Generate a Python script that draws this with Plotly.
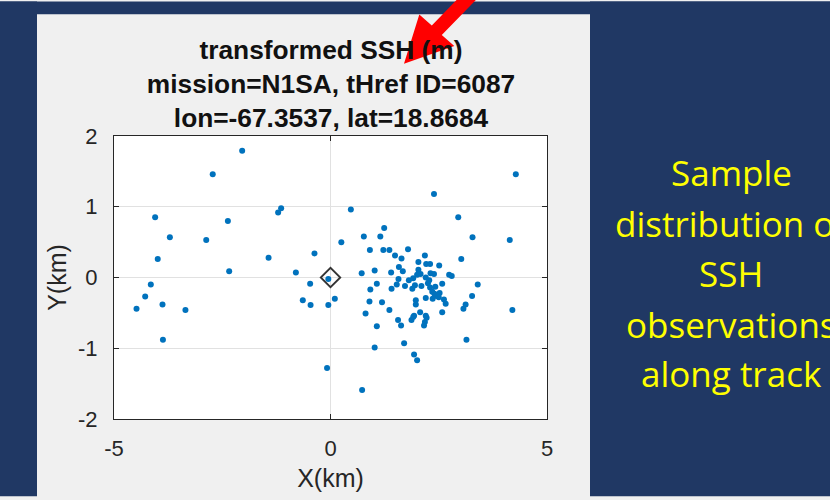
import plotly.graph_objects as go

# ---- data (km offsets of SSH observations relative to reference point) ----
x_km = [
    -2.04, -2.72, -4.05, -1.14, -1.21, -2.37, -3.71, -2.87, -3.99, -1.43,
    -0.37, -2.34, -0.80, -4.15, -0.47, -0.05, -4.28, -3.88, -4.48, -3.35,
    -3.87, -0.64, -0.46, -0.05, 0.10, -0.08, 0.73,
    4.28, 2.39, 0.47, 2.95, 1.24, 0.77, 1.15, 3.28, 4.14, 0.25, 0.91, 1.22,
    1.36, 1.79, 1.49, 1.64, 2.18, 3.02, 2.03, 2.21, 2.30, 2.51, 1.58, 1.67,
    1.02, 0.72, 1.40, 2.03, 2.08, 2.00, 2.31, 2.39, 2.74, 2.80, 1.57, 1.81,
    1.91, 2.20, 1.07, 1.53, 1.72, 1.95, 2.58, 3.40, 0.92, 1.41, 1.89, 2.10,
    2.25, 2.30, 2.35, 2.40, 2.45, 2.50, 2.52, 2.62, 2.20, 3.27, 0.90, 1.19,
    1.97, 1.97, 2.66, 3.12, 3.07, 2.58, 2.07, 2.20, 1.93, 1.36, 0.81, 1.56,
    1.63, 1.87, 1.91, 2.16, 2.18, 2.22, 1.07, 1.70, 1.02, 1.93, 2.00, 3.14,
    4.20, 2.28, 2.42, 2.36,
]
y_km = [
    1.79, 1.46, 0.85, 0.98, 0.92, 0.80, 0.57, 0.53, 0.26, 0.28,
    0.34, 0.09, 0.07, -0.10, -0.09, -0.02, -0.27, -0.38, -0.44, -0.46,
    -0.88, -0.32, -0.39, -0.39, -0.30, -1.28, -1.59,
    1.46, 1.18, 0.96, 0.85, 0.70, 0.58, 0.58, 0.57, 0.53, 0.50, 0.39, 0.39,
    0.39, 0.40, 0.31, 0.27, 0.31, 0.26, 0.22, 0.19, 0.19, 0.17, 0.15, 0.09,
    0.10, 0.06, 0.07, 0.11, 0.05, 0.04, 0.06, 0.05, 0.04, 0.02, -0.02, -0.04,
    -0.01, 0.00, -0.09, -0.10, -0.12, -0.11, -0.09, -0.10, -0.17, -0.16, -0.16, -0.12,
    -0.08, -0.14, -0.20, -0.23, -0.26, -0.28, -0.22, -0.31, -0.29, -0.26, -0.34, -0.35,
    -0.32, -0.38, -0.37, -0.38, -0.44, -0.49, -0.49, -0.54, -0.54, -0.46, -0.51, -0.60,
    -0.68, -0.60, -0.56, -0.68, -0.63, -0.57, -0.69, -0.93, -0.99, -1.09, -1.17, -0.88,
    -0.46, -0.04, -0.13, -0.30,
]
ref_x = [0.0]
ref_y = [0.0]

x_ticks = [-5, 0, 5]
x_ticklabels = ["-5", "0", "5"]
y_ticks = [-2, -1, 0, 1, 2]
y_ticklabels = ["-2", "-1", "0", "1", "2"]

title_lines = ["transformed SSH (m)", "mission=N1SA, tHref ID=6087", "lon=-67.3537, lat=18.8684"]
side_lines = ["Sample", "distribution of", "SSH", "observations", "along track"]

# ---- layout geometry (pixels) ----
W, H = 830, 500
L, R, T, B = 114, 547, 136, 422
pw, ph = R - L, B - T
NAVY = "#203864"
PANEL = "#F0F0F0"


def px(xp):
    return (xp - L) / pw


def py(yp):
    return (B - yp) / ph


fig = go.Figure()
fig.add_trace(go.Scatter(
    x=x_km, y=y_km, mode="markers",
    marker=dict(color="#0072BD", size=6, line=dict(width=0)),
    showlegend=False, hoverinfo="skip"))
fig.add_trace(go.Scatter(
    x=ref_x, y=ref_y, mode="markers",
    marker=dict(symbol="diamond-open", color="#333333", size=15, line=dict(width=1.8, color="#333333")),
    showlegend=False, hoverinfo="skip"))

FONT = "Liberation Sans, Arial"
axis_common = dict(
    showgrid=True, gridcolor="#e1e1e1", gridwidth=1, zeroline=False,
    showline=True, linecolor="#262626", linewidth=1, mirror="ticks",
    ticks="inside", ticklen=5, tickcolor="#262626",
    tickfont=dict(family=FONT, size=22, color="#262626"),
    fixedrange=True,
)

fig.update_xaxes(range=[-5, 5], tickvals=x_ticks, ticktext=x_ticklabels, ticklabelstandoff=10,
                 title=dict(text="X(km)", standoff=9, font=dict(family=FONT, size=25, color="#262626")),
                 **axis_common)
fig.update_yaxes(range=[-2, 2], tickvals=y_ticks, ticktext=y_ticklabels, ticklabelstandoff=11,
                 title=dict(text="Y(km)", standoff=4, font=dict(family=FONT, size=25, color="#262626")),
                 **axis_common)

shapes = []
# navy slide background around the grey MATLAB figure panel
for (a0, a1, b0, b1) in [(0, 37, 0, 500), (590, 830, 0, 500), (0, 830, 0, 13)]:
    shapes.append(dict(type="rect", xref="paper", yref="paper", layer="below",
                       x0=px(a0), x1=px(a1), y0=py(b1), y1=py(b0),
                       fillcolor=NAVY, line=dict(width=0)))

# red arrow (decoration)
arrow_pts = [(404, 63), (419.3, 13.3), (431.8, 24.4), (473.3, -18.9),
             (483.4, -9.3), (441.8, 34.0), (454.3, 45.0)]
path = "M " + " L ".join(f"{px(a):.4f},{py(b):.4f}" for a, b in arrow_pts) + " Z"
shapes.append(dict(type="path", xref="paper", yref="paper", path=path,
                   fillcolor="#FF0000", line=dict(width=0), layer="above"))

annotations = []
side_centers = [173, 224, 275, 326, 376]
for txt, yc in zip(side_lines, side_centers):
    annotations.append(dict(
        text=txt, xref="paper", yref="paper", x=px(731), y=py(yc),
        xanchor="center", yanchor="middle", showarrow=False,
        font=dict(family="Open Sans, sans-serif", size=35, color="#FFFF00")))

fig.update_layout(
    width=W, height=H,
    margin=dict(l=L, r=W - R, t=T, b=H - B, pad=0),
    paper_bgcolor=PANEL, plot_bgcolor="#FFFFFF",
    title=dict(text="<br>".join(title_lines), x=px(331), xref="paper", xanchor="center",
               y=1 - 59 / H, yref="container", yanchor="top",
               font=dict(family=FONT, size=26.3, color="#111111", weight="bold")),
    shapes=shapes, annotations=annotations,
)

fig.write_html("out.html")
